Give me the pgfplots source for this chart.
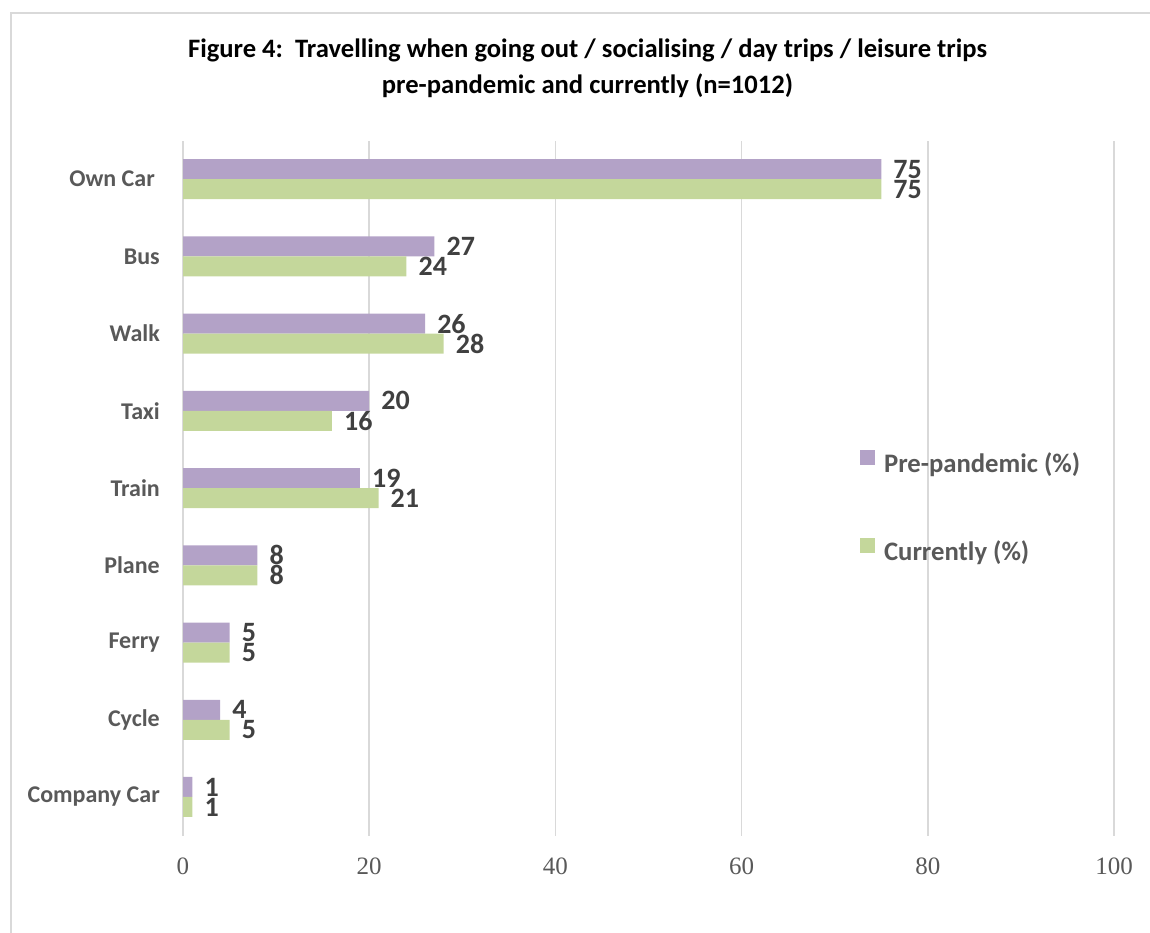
\documentclass[border=0pt]{standalone}
\usepackage{pgfplots}
\pgfplotsset{compat=1.18}
\usepackage{fontspec}
\setmainfont{Carlito}
\newfontfamily\tickfont{Liberation Serif}
\definecolor{purp}{HTML}{B3A2C7}
\definecolor{grn}{HTML}{C4D79B}
\definecolor{gridc}{HTML}{D9D9D9}
\definecolor{lab}{HTML}{595959}
\definecolor{dlab}{HTML}{404040}
\pgfplotsset{sqlegend/.style={legend image code/.code={\path[##1] (0pt,-2pt) rectangle (15pt,13pt); \path (22pt,0pt);}}}
\begin{document}
\begin{tikzpicture}[x=1pt,y=1pt]
\path[use as bounding box] (0,0) rectangle (1150,933);
\draw[gridc, line width=2pt] (11,0) -- (11,920) -- (1150,920);
\node[align=center, font=\fontsize{26.6}{36}\selectfont\bfseries, text=black] at (587.5,865)
  {Figure 4:\ \ Travelling when going out / socialising / day trips / leisure trips\\pre-pandemic and currently (n=1012)};
\begin{axis}[
  at={(183pt,97.4pt)}, anchor=south west,
  scale only axis, width=931pt, height=695pt,
  xbar, bar width=20pt,
  xmin=0, xmax=100, ymin=-0.5, ymax=8.5,
  xtick={0,20,40,60,80,100},
  ytick={0,1,2,3,4,5,6,7,8},
  yticklabels={Company Car, Cycle, Ferry, Plane, Train, Taxi, Walk, Bus, {Own Car\kern5pt}},
  xmajorgrids, grid style={gridc, line width=1.5pt},
  axis line style={draw=none},
  major tick length=0pt,
  /pgf/number format/assume math mode=true,
  xticklabel style={font=\tickfont\fontsize{25}{25}\selectfont, text=lab, anchor=base, inner sep=0pt, yshift=-38.7pt},
  yticklabel style={font=\fontsize{24}{24}\selectfont\bfseries, text=lab, anchor=east, inner sep=0pt, xshift=-23pt},
  nodes near coords,
  every node near coord/.append style={font=\fontsize{28}{28}\selectfont\bfseries, text=dlab, anchor=west, inner sep=0pt, xshift=12pt},
  legend style={at={(0.727,0.4728)}, anchor=west, draw=none, fill=none, inner sep=0pt,
    row sep=62pt, font=\fontsize{26.7}{30}\selectfont\bfseries, text=lab},
  legend cell align=left,
]
\addplot[fill=purp, draw=none, bar shift=10pt, sqlegend]
  coordinates {(1,0) (4,1) (5,2) (8,3) (19,4) (20,5) (26,6) (27,7) (75,8)};
\addlegendentry{Pre-pandemic (\%)}
\addplot[fill=grn, draw=none, bar shift=-10pt, sqlegend]
  coordinates {(1,0) (5,1) (5,2) (8,3) (21,4) (16,5) (28,6) (24,7) (75,8)};
\addlegendentry{Currently (\%)}
\end{axis}
\end{tikzpicture}
\end{document}
